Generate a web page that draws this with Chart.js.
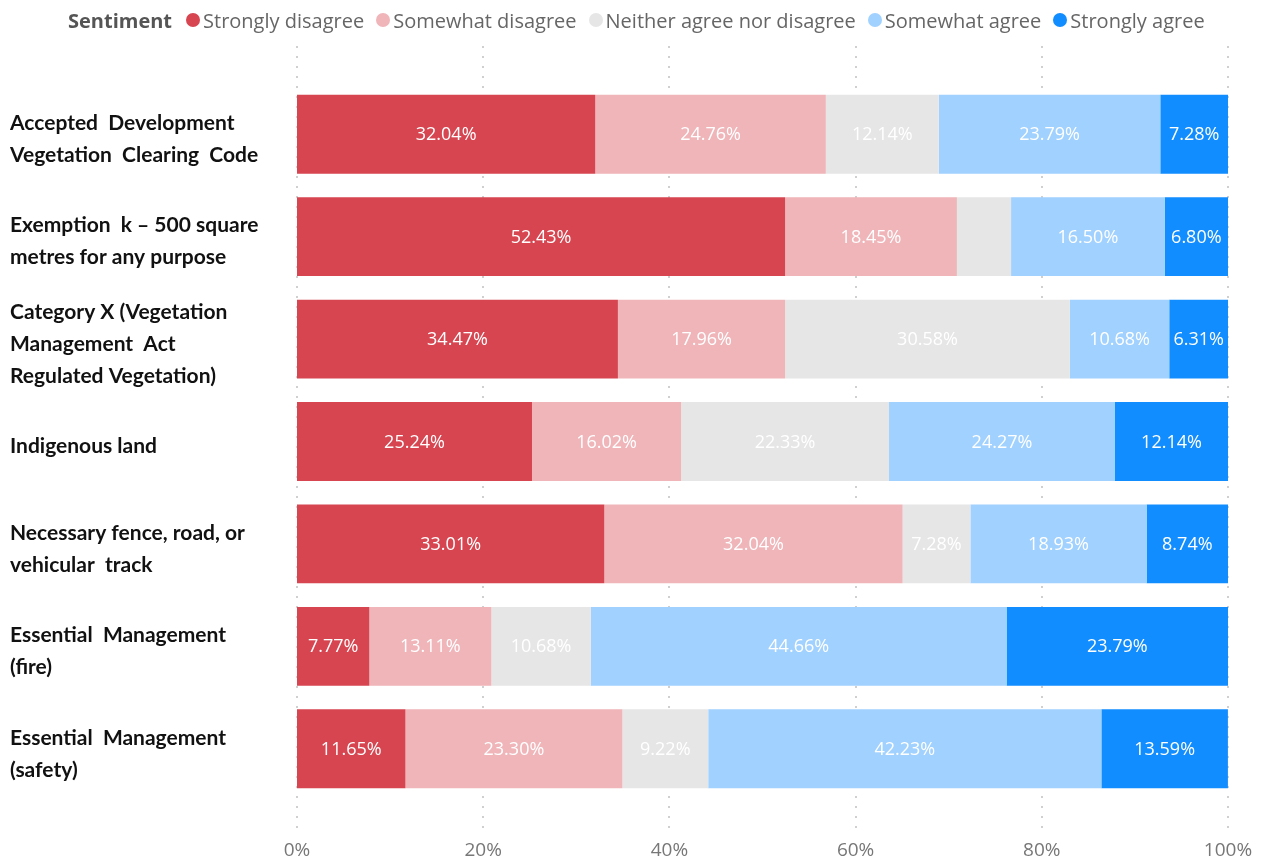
<!DOCTYPE html>
<html>
<head>
<meta charset="utf-8">
<script src="https://cdn.jsdelivr.net/npm/chart.js"></script>
<style>
  html, body { margin: 0; padding: 0; background: #fff; }
  #wrap { position: relative; width: 1263px; height: 862px; }
  #legend {
    position: absolute; left: 68px; top: 6px; height: 28px;
    display: flex; align-items: center;
    font-family: "Open Sans", sans-serif; font-size: 20px; color: #666;
    white-space: nowrap;
  }
  #legend .title { font-weight: bold; color: #555; margin-right: 14px; }
  #legend .item { display: flex; align-items: center; margin-right: 12px; }
  #legend .dot { width: 14px; height: 14px; border-radius: 50%; margin-right: 3px; }
  #chart { position: absolute; left: 0; top: 0; }
</style>
</head>
<body>
<div id="wrap">
  <canvas id="chart" width="1263" height="862"></canvas>
  <div id="legend"></div>
</div>
<script>
// Survey topics (y axis), split into display lines
const topics = [
  ['Accepted  Development', 'Vegetation  Clearing  Code'],
  ['Exemption  k – 500 square', 'metres for any purpose'],
  ['Category X (Vegetation', 'Management  Act', 'Regulated Vegetation)'],
  ['Indigenous land'],
  ['Necessary fence, road, or', 'vehicular  track'],
  ['Essential  Management', '(fire)'],
  ['Essential  Management', '(safety)']
];

const sentiments = ['Strongly disagree', 'Somewhat disagree', 'Neither agree nor disagree', 'Somewhat agree', 'Strongly agree'];
const sentimentColors = ['#D64550', '#EFB5B9', '#E6E6E6', '#A0D1FF', '#118DFF'];

// Percent of respondents per topic
const stronglyDisagree = [32.04, 52.43, 34.47, 25.24, 33.01, 7.77, 11.65];
const somewhatDisagree = [24.76, 18.45, 17.96, 16.02, 32.04, 13.11, 23.30];
const neitherAgree     = [12.14, 5.82, 30.58, 22.33, 7.28, 10.68, 9.22];
const somewhatAgree    = [23.79, 16.50, 10.68, 24.27, 18.93, 44.66, 42.23];
const stronglyAgree    = [7.28, 6.80, 6.31, 12.14, 8.74, 23.79, 13.59];

const xTicks = [0, 20, 40, 60, 80, 100];

const seriesValues = [stronglyDisagree, somewhatDisagree, neitherAgree, somewhatAgree, stronglyAgree];

// legend row
const legendEl = document.getElementById('legend');
legendEl.innerHTML = '<span class="title">Sentiment</span>' + sentiments.map((s, i) =>
  `<span class="item"><span class="dot" style="background:${sentimentColors[i]}"></span>${s}</span>`
).join('');

// dotted vertical gridlines, running a bit past the bars
const dottedGrid = {
  id: 'dottedGrid',
  beforeDatasetsDraw(chart) {
    const ctx = chart.ctx;
    const x = chart.scales.x;
    ctx.save();
    ctx.fillStyle = '#d0d0d0';
    xTicks.forEach(t => {
      const px = Math.round(x.getPixelForValue(t));
      for (let y = 46; y < 834; y += 10) {
        ctx.fillRect(px - 1, y, 2, 2);
      }
    });
    ctx.restore();
  }
};

// percentage labels inside each segment
const segmentLabels = {
  id: 'segmentLabels',
  afterDatasetsDraw(chart) {
    const ctx = chart.ctx;
    ctx.save();
    ctx.font = '18px "Open Sans", sans-serif';
    ctx.fillStyle = '#ffffff';
    ctx.textAlign = 'center';
    ctx.textBaseline = 'middle';
    chart.data.datasets.forEach((ds, di) => {
      chart.getDatasetMeta(di).data.forEach((bar, i) => {
        const v = ds.data[i];
        if (v < 6) return;
        const cx = (bar.x + bar.base) / 2;
        ctx.fillText(v.toFixed(2) + '%', cx, bar.y + 1);
      });
    });
    ctx.restore();
  }
};

new Chart(document.getElementById('chart'), {
  type: 'bar',
  data: {
    labels: topics,
    datasets: seriesValues.map((vals, i) => ({
      label: sentiments[i],
      data: vals,
      backgroundColor: sentimentColors[i],
      borderWidth: 0,
      barPercentage: 0.77,
      categoryPercentage: 1
    }))
  },
  options: {
    indexAxis: 'y',
    responsive: false,
    animation: false,
    layout: { padding: { left: 10, right: 35, top: 83, bottom: 0 } },
    plugins: {
      legend: { display: false },
      tooltip: { enabled: false }
    },
    scales: {
      x: {
        stacked: true,
        min: 0,
        max: 100,
        border: { display: false },
        grid: { display: false, drawTicks: false },
        afterBuildTicks: scale => { scale.ticks = xTicks.map(v => ({ value: v })); },
        afterFit: scale => {
          scale.height = 62;
          scale.paddingLeft = 0;
          scale.paddingRight = 0;
        },
        ticks: {
          padding: 39,
          color: '#777',
          font: { family: '"Open Sans", sans-serif', size: 19 },
          callback: v => v + '%'
        }
      },
      y: {
        stacked: true,
        border: { display: false },
        grid: { display: false, drawTicks: false },
        afterFit: scale => { scale.width = 287; },
        ticks: {
          autoSkip: false,
          crossAlign: 'far',
          labelOffset: 5,
          color: '#111',
          font: { family: 'Lato, sans-serif', size: 21, weight: 'bold', lineHeight: 1.52 }
        }
      }
    }
  },
  plugins: [dottedGrid, segmentLabels]
});
</script>
</body>
</html>
